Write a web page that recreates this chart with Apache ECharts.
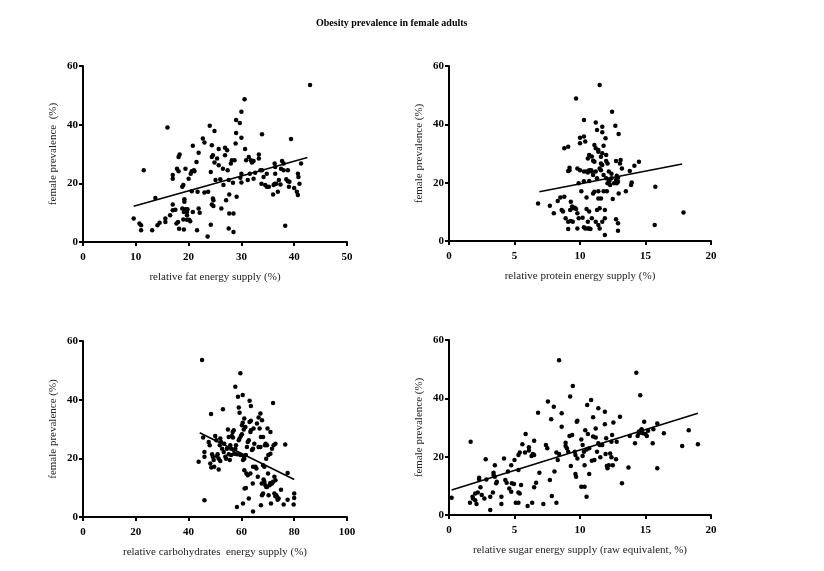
<!DOCTYPE html>
<html>
<head>
<meta charset="utf-8">
<script src="https://cdn.jsdelivr.net/npm/echarts@6/dist/echarts.min.js"></script>
<style>
  html, body { margin: 0; padding: 0; background: #fff; }
  #chart { width: 824px; height: 571px; }
</style>
</head>
<body>
<div id="chart"></div>
<script>
// female obesity prevalence (%) against relative energy supply, one point per country
const fatPoints = [
  [9.6,8],[10.7,6.3],[11,5.7],[11,4],[11.5,24.5],[13.1,4],[13.7,15],[14.1,5.7],[14.5,6.6],[15.6,8],
  [15.6,6.8],[16,39],[16.5,9.1],[17,12.8],[17,10.8],[17,22.8],[17,21.6],[17.5,11],[17.7,6.3],[17.8,25],
  [18,6.8],[18.2,4.5],[18.1,24.1],[18.1,29],[18.3,29.8],[18.8,18.8],[19,19.4],[18.8,11.4],[19.1,10.2],[19,7.7],
  [19.1,4.3],[19.2,14.6],[19.2,13.7],[19.4,25],[19.4,11.2],[19.7,10.2],[19.7,9.1],[19.8,11.2],[19.7,7.6],[20.1,7.6],
  [20.3,7.1],[20,21.6],[20.4,23.3],[20.6,17.3],[20.6,24.1],[21,24.5],[20.8,32.8],[20.8,10.2],[21.1,24.1],[21.5,27.3],
  [21.6,4],[21.7,17.1],[21.9,30.4],[21.9,11.4],[22.1,10],[22.7,35.3],[23,33.9],[23,16.9],[23.7,17.1],[23.6,1.9],
  [24,39.6],[24.2,5.9],[24.2,23.9],[24.4,29],[24.6,29.6],[24.4,33],[24.6,14.8],[24.7,14.2],[24.4,12.8],[24.7,12.3],
  [24.9,37.8],[24.9,27.1],[25.1,21.1],[25.4,28.5],[25.7,26.2],[25.7,31.7],[26,21.4],[26.2,11.4],[26.5,25],[26.6,19.4],
  [26.9,32.1],[26.9,29.6],[27.1,14.2],[27.3,31.3],[27.4,24.5],[27.6,21.1],[27.7,16.2],[27.7,9.7],[27.6,4.6],[28,26.8],
  [28.2,27.9],[28.4,20.2],[28.5,9.7],[28.5,3.4],[28.7,27.9],[28.9,33.6],[29,37.2],[29,41.6],[29.1,15.4],[29.7,40.6],
  [29.8,21.9],[30,44.4],[30,35.5],[30,23.3],[30,20.3],[30.6,48.7],[30.7,31.7],[30.9,27.9],[31.2,21.1],[31.4,29],
  [31.6,23.3],[31.8,27.9],[32,27.1],[32.3,27.6],[32.3,21.6],[32.6,23.6],[33.3,29.8],[33.3,28.5],[33.6,24.5],[33.9,24.5],
  [33.8,19.9],[33.9,36.7],[34.2,22.2],[34.5,19.4],[34.8,18.8],[34.8,23.3],[35.2,18.8],[36,16.2],[36.1,19.4],[36.3,19.9],
  [36.3,26.8],[36.4,25.6],[36.4,23.3],[36.6,19.9],[36.9,17.1],[37.1,21.1],[37.4,19.6],[37.5,25],[37.7,27.6],[38,26.8],
  [38,24.5],[38.3,5.5],[38.5,21.4],[38.8,24.5],[38.8,20.7],[39,18.8],[39.1,20.5],[39.4,35.1],[40,18.4],[40.5,17.1],
  [40.7,16],[40.7,23.3],[40.8,22.2],[41,19.9],[41.3,26.8],[43,53.5]
];
const fatFit = [[9.6,12.2],[42.5,28.8]];

const proteinPoints = [
  [6.8,12.9],[7.7,12.1],[8,9.5],[8.3,13.7],[8.5,14.9],[8.8,15.2],[8.6,10.6],[8.7,10.1],[8.8,31.8],[9.1,32.3],
  [8.9,7.8],[9.1,6.6],[9.1,4.1],[9.1,24],[9.2,25.1],[9.2,24.3],[9.3,13.5],[9.4,11.8],[9.25,10.6],[9.45,11.2],
  [9.45,6.6],[9.3,6.9],[9.6,11.4],[9.7,48.9],[9.7,11],[9.8,24.9],[9.8,9.5],[9.8,4.3],[9.9,19.8],[9.9,7.8],
  [10,35.4],[10,33.5],[10,24.3],[10.1,17.1],[10.2,8],[10.3,41.5],[10.3,4.7],[10.3,35.8],[10.4,34.1],[10.3,23.8],
  [10.4,4.3],[10.5,14.9],[10.5,11],[10.5,23.8],[10.6,28.3],[10.7,29.5],[10.6,4.3],[10.7,4.3],[10.6,6.6],[10.7,24.3],
  [10.7,20.6],[10.7,10.1],[10.8,4.1],[10.85,24.3],[10.9,23.8],[10.9,7.8],[11,22.6],[11,16.3],[11.1,16.9],[11.1,32.9],
  [11.1,27.2],[11.2,31.8],[11.2,23.8],[11.2,6.6],[11.2,40.6],[11.3,10.6],[11.3,38.1],[11.4,30.6],[11.4,31.2],[11.4,17.1],
  [11.4,14.6],[11.4,5.5],[11.5,24.9],[11.6,24.3],[11.5,11.2],[11.5,53.5],[11.6,26.6],[11.7,26.1],[11.6,14.6],[11.5,4.3],
  [11.7,30.1],[11.7,39.2],[11.7,37.3],[11.7,6.6],[11.8,22.6],[11.8,17.1],[11.8,32.7],[11.9,10.6],[11.9,7.8],[11.9,2.1],
  [11.95,35.2],[12,29.5],[12,21.5],[12,27.4],[12.1,26.6],[12.05,17.1],[12.1,19.8],[12.2,23.8],[12.25,20.6],[12.3,19.2],
  [12.4,21.5],[12.45,44.3],[12.5,14.4],[12.6,19.8],[12.75,20.9],[12.7,39.5],[12.75,27.4],[12.75,7.5],[12.8,22.4],[12.9,21.7],
  [12.9,20.3],[12.8,19.8],[12.9,6.1],[12.9,3.5],[12.95,36.7],[12.95,16.3],[13.05,26.6],[13.1,27.8],[13.2,24.9],[13.5,17.1],
  [13.8,24],[13.9,19.2],[13.95,20.1],[14.15,25.8],[14.5,27.2],[15.75,18.6],[15.7,5.5],[17.9,9.8],
  [10.6,23.5],[11.3,21.5],[10.9,29.0],[11.6,28.9],[12.2,21.0],[10.3,20.5],[11.0,27.5],[12.4,23.1]
];
const proteinFit = [[6.9,16.9],[17.8,26.4]];

const carbPoints = [
  [43.8,18.8],[45.1,53.5],[45.5,27.1],[46,22.2],[46,20.5],[46,5.7],[47.6,25.6],[48,24.5],[48.2,18.2],[48.6,16.9],
  [48.5,35.1],[48.9,21.4],[49.2,20.5],[49.5,19.4],[49.7,17.1],[50.1,27.6],[50.5,26.2],[50.8,20.7],[51,21.4],[51.4,19.9],
  [51.4,16.2],[51.8,24.5],[52,26.8],[52.3,25.6],[52,19.1],[52.7,23.3],[53,36.7],[53.3,22.2],[53.5,25],[53.9,20.5],
  [54.2,19.9],[54.5,23.3],[54.9,29.8],[55.2,27.3],[55.2,21.4],[55.6,19.4],[55.8,24.5],[56.1,23.3],[56.1,21.1],[56.4,27.6],
  [56.7,29],[57.1,29.6],[56.8,27.1],[57.1,22.8],[57.3,21.6],[57.7,44.4],[57.7,23.3],[57.95,24.5],[58.3,21.4],[58.3,3.4],
  [58.7,41],[59,37.3],[59.3,35.5],[59,26.2],[59.3,26.8],[59.6,49],[59.6,21.1],[59.8,27.6],[60.2,28.2],[60.2,31.3],
  [60.5,32.1],[60.5,41.6],[60.6,19.4],[60.6,4.6],[60.9,29.8],[60.9,20.7],[61.1,19.9],[61.1,33.6],[61.1,15.9],[61.2,9.7],
  [61.7,9.9],[61.5,30.7],[61.7,21.1],[61.9,14.8],[62.4,14.2],[62.1,23.9],[62.4,25.6],[62.8,26.2],[62.8,6.3],[63.1,39.6],
  [63.1,32.4],[63.6,32.8],[63.4,29],[63.6,29.6],[63.4,14.8],[63.6,37.8],[64,22.8],[64.4,23.3],[64.3,11.4],[64.4,17.1],
  [64.4,1.9],[64.6,30.2],[64.9,25],[65.3,17.1],[65.7,16.5],[65.9,31.9],[66.2,13.7],[66.5,33.9],[66.5,23.9],[66.9,30.2],
  [67.2,23.9],[67.4,27.3],[67.2,35.3],[67.4,4],[67.7,11.4],[67.8,33],[67.8,7.4],[68.2,8],[68.2,27.3],[68.2,17.6],
  [68.4,12.8],[68.7,12],[68.7,17.1],[68.9,24.5],[69.1,10.8],[69.4,10.2],[69.2,25],[69.4,19.9],[69.7,24.5],[69.7,10.2],
  [69.9,30.2],[70.1,14.8],[70.2,21.1],[70.3,7.4],[70.7,10.8],[70.96,11.6],[71,21.6],[71,29],[71.2,4.6],[71.6,11.4],
  [72,12],[71.6,23.3],[72,38.9],[72.2,24.5],[72.5,8],[72.9,7.1],[72.5,13.7],[72.9,12.5],[72.9,25],[73.2,7.4],
  [73.5,6.8],[73.7,5.9],[74.1,6.3],[75,9.3],[76,4.3],[76.6,24.7],[77.5,5.9],[77.5,15],[80,8],[80,6.5],
  [79.8,4.3]
];
const carbFit = [[44.2,28.7],[80,12.8]];

const sugarPoints = [
  [0.2,5.9],[1.6,4.2],[1.65,25.1],[1.8,6.3],[1.83,5.7],[2,5.1],[2,7.4],[2.1,3.8],[2.2,7.7],[2.3,12.2],
  [2.3,12.8],[2.4,9.5],[2.5,6.9],[2.7,5.7],[2.8,19.1],[2.85,12.2],[3.15,6.3],[3.15,1.7],[3.35,7.7],[3.4,14.5],
  [3.4,13.7],[3.5,17.1],[3.5,13.1],[3.6,10.9],[3.65,11.4],[4,6.3],[4,3.8],[4.2,19.4],[4.3,12],[4.4,11.1],
  [4.5,14.9],[4.6,9.1],[4.75,17.1],[4.75,8],[4.8,10.9],[4.96,10.6],[5,18.9],[5.1,4.2],[5.3,4.2],[5.3,20.6],
  [5.3,7.7],[5.4,7.4],[5.3,15.4],[5.4,21.4],[5.5,10.3],[5.6,24.3],[5.8,21.4],[5.85,27.8],[6,3.1],[6.1,22.1],
  [6.1,23.2],[6.3,20.2],[6.35,4.2],[6.4,20.9],[6.5,20.6],[6.5,9.5],[6.5,25.5],[6.65,11.1],[6.8,35.1],[6.9,14.5],
  [7.2,3.8],[7.4,24],[7.5,22.9],[7.55,38.9],[7.7,12],[7.8,32.8],[7.85,6.5],[8,37.1],[8.05,14.9],[8.2,4.2],
  [8.2,21.4],[8.3,18.9],[8.4,53.1],[8.4,20.9],[8.6,30.3],[8.6,34.9],[8.9,24.8],[8.9,23.7],[9,22.9],[9.1,21.7],
  [9.2,27.1],[9.25,40.6],[9.3,16.8],[9.4,27.4],[9.45,44.2],[9.6,21.7],[9.65,20.6],[9.65,14.1],[9.7,13.1],[9.75,32],
  [9.8,32.3],[9.8,19.4],[10.1,25.9],[10.1,9.7],[10.2,24],[10.2,20.2],[10.3,21.7],[10.35,9.7],[10.35,17.1],[10.4,29.1],
  [10.5,6.3],[10.5,22.5],[10.55,37.7],[10.6,27.8],[10.7,14.1],[10.7,22.9],[10.85,39.4],[10.9,18.6],[11,33.5],[11,26.9],
  [11.1,18.9],[11.2,29.7],[11.2,26.6],[11.3,21.7],[11.4,36.6],[11.4,24.6],[11.5,24],[11.55,19.8],[11.6,24],[11.7,24],
  [11.9,31.1],[11.9,35.4],[11.95,20.9],[12,26.3],[12.05,16.8],[12.1,16],[12.2,17.1],[12.3,21.1],[12.4,25.1],[12.4,19.8],
  [12.45,27.4],[12.5,17.1],[12.55,31.7],[12.75,19.1],[12.8,25.1],[13.05,33.7],[13.2,10.9],[13.7,16.3],[13.8,27.1],[14.2,24.6],
  [14.3,48.8],[14.4,27.1],[14.5,28],[14.5,28.6],[14.6,41.1],[14.7,29.1],[14.7,29.4],[14.8,28],[14.9,32],[15,27.8],
  [15.1,27.1],[15.2,28.9],[15.6,29.4],[15.55,24.6],[15.9,31.4],[15.9,16],[16.4,28],[17.8,23.7],[18.3,29.1],[19,24.3]
];
const sugarFit = [[0.2,8.6],[19,34.9]];

const panelTitle = 'Obesity prevalence in female adults';
const yName = ['female prevalence  (%)', 'female prevalence (%)', 'female prevalence (%)', 'female prevalence (%)'];
const xName = ['relative fat energy supply (%)', 'relative protein energy supply (%)',
  'relative carbohydrates  energy supply (%)', 'relative sugar energy supply (raw equivalent, %)'];
const xMax = [50, 20, 100, 20];
const xStep = [10, 5, 20, 5];
const yTicks = [0, 20, 40, 60];

const serif = '"Liberation Serif", "DejaVu Serif", serif';

const grids = [
  { left: 83, top: 66, width: 264, height: 176 },
  { left: 449, top: 66, width: 262, height: 175 },
  { left: 83, top: 341, width: 264, height: 176 },
  { left: 449, top: 340, width: 262, height: 175 }
];

const axisLineStyle = { lineStyle: { color: '#000', width: 2 } };
const tickStyle = { show: true, length: 4, lineStyle: { color: '#000', width: 2 } };
const tickLabel = { color: '#000', fontFamily: serif, fontWeight: 'bold', fontSize: 11 };
const nameStyle = { color: '#222', fontFamily: serif, fontSize: 11 };

const xAxes = grids.map((g, i) => ({
  gridIndex: i,
  type: 'value',
  min: 0,
  max: xMax[i],
  interval: xStep[i],
  name: xName[i],
  nameLocation: 'middle',
  nameGap: 30,
  nameTextStyle: nameStyle,
  axisLine: axisLineStyle,
  axisTick: tickStyle,
  axisLabel: Object.assign({ margin: 10 }, tickLabel),
  splitLine: { show: false }
}));

const yAxes = grids.map((g, i) => ({
  gridIndex: i,
  type: 'value',
  min: yTicks[0],
  max: yTicks[yTicks.length - 1],
  interval: yTicks[1] - yTicks[0],
  name: yName[i],
  nameLocation: 'middle',
  nameGap: 24,
  nameTextStyle: nameStyle,
  axisLine: axisLineStyle,
  axisTick: tickStyle,
  axisLabel: Object.assign({ margin: 5 }, tickLabel),
  splitLine: { show: false }
}));

const pointSets = [fatPoints, proteinPoints, carbPoints, sugarPoints];
const fitSets = [fatFit, proteinFit, carbFit, sugarFit];

const series = [];
pointSets.forEach((pts, i) => {
  series.push({
    type: 'scatter',
    xAxisIndex: i,
    yAxisIndex: i,
    symbol: 'circle',
    symbolSize: 4.5,
    itemStyle: { color: '#000', opacity: 1 },
    data: pts
  });
  series.push({
    type: 'line',
    xAxisIndex: i,
    yAxisIndex: i,
    symbol: 'none',
    lineStyle: { color: '#000', width: 1.6 },
    data: fitSets[i]
  });
});

const chart = echarts.init(document.getElementById('chart'));
chart.setOption({
  animation: false,
  backgroundColor: '#fff',
  title: {
    text: panelTitle,
    left: 311,
    top: 13,
    textStyle: { fontFamily: serif, fontWeight: 'bold', fontSize: 10, color: '#000' }
  },
  grid: grids,
  xAxis: xAxes,
  yAxis: yAxes,
  series: series
});
</script>
</body>
</html>
